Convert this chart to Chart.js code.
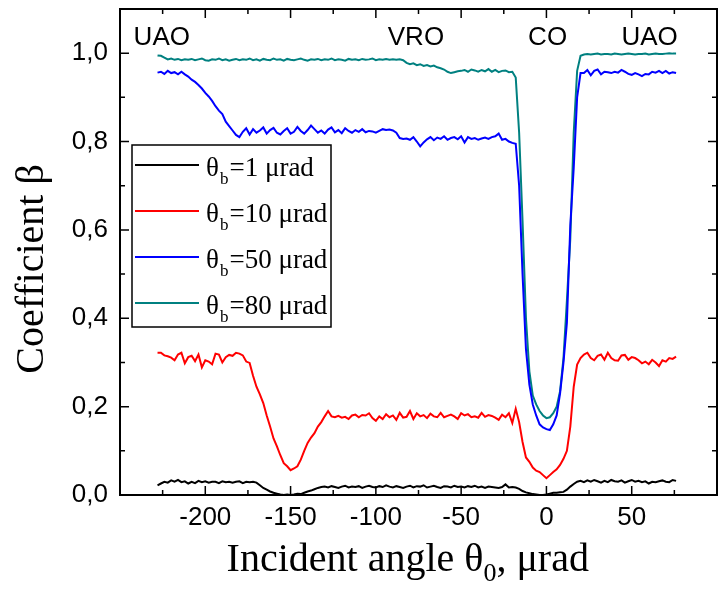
<!DOCTYPE html>
<html><head><meta charset="utf-8">
<script src="https://cdn.jsdelivr.net/npm/chart.js@4.4.1/dist/chart.umd.min.js"></script>
<style>html,body{margin:0;padding:0;background:#fff;}#wrap{width:719px;height:589px;}</style>
</head><body><div id="wrap"><canvas id="c" width="719" height="589"></canvas></div>
<script>
// Incident angle theta_0, µrad
const angles = [
-228,-226,-224,-222,-220,-218,-216,-214,-212,-210,
-208,-206,-204,-202,-200,-198,-196,-194,-192,-190,
-188,-186,-184,-182,-180,-178,-176,-174,-172,-170,
-168,-166,-164,-162,-160,-158,-156,-154,-152,-150,
-148,-146,-144,-142,-140,-138,-136,-134,-132,-130,
-128,-126,-124,-122,-120,-118,-116,-114,-112,-110,
-108,-106,-104,-102,-100,-98,-96,-94,-92,-90,
-88,-86,-84,-82,-80,-78,-76,-74,-72,-70,
-68,-66,-64,-62,-60,-58,-56,-54,-52,-50,
-48,-46,-44,-42,-40,-38,-36,-34,-32,-30,
-28,-26,-24,-22,-20,-18,-16,-14,-12,-10,
-8,-6,-4,-2,0,2,4,6,8,10,
12,14,16,18,20,22,24,26,28,30,
32,34,36,38,40,42,44,46,48,50,
52,54,56,58,60,62,64,66,68,70,
72,74,76];

// theta_b = 1 µrad
const beta1 = [
0.022,0.026,0.030,0.028,0.033,0.030,0.034,0.029,0.031,0.026,
0.030,0.027,0.032,0.029,0.031,0.028,0.030,0.030,0.027,0.031,
0.029,0.030,0.028,0.030,0.031,0.027,0.030,0.029,0.030,0.028,
0.022,0.016,0.012,0.008,0.005,0.003,0.001,0.000,0.001,0.000,
0.001,0.003,0.002,0.005,0.008,0.010,0.013,0.016,0.018,0.019,
0.017,0.020,0.018,0.016,0.019,0.021,0.017,0.019,0.018,0.020,
0.016,0.019,0.021,0.018,0.017,0.020,0.018,0.022,0.019,0.017,
0.020,0.018,0.016,0.019,0.021,0.017,0.020,0.019,0.022,0.017,
0.019,0.021,0.018,0.016,0.020,0.019,0.017,0.021,0.018,0.019,
0.017,0.020,0.018,0.021,0.017,0.019,0.016,0.019,0.018,0.017,
0.016,0.018,0.024,0.017,0.018,0.017,0.014,0.009,0.006,0.004,
0.002,0.001,0.000,0.000,0.001,0.003,0.005,0.005,0.006,0.007,
0.012,0.019,0.025,0.030,0.032,0.029,0.033,0.030,0.034,0.031,
0.028,0.032,0.029,0.034,0.031,0.030,0.033,0.028,0.031,0.034,
0.030,0.032,0.029,0.031,0.026,0.030,0.029,0.031,0.033,0.030,
0.029,0.034,0.032];

// theta_b = 10 µrad
const beta10 = [
0.322,0.322,0.316,0.314,0.311,0.305,0.318,0.322,0.298,0.312,
0.315,0.303,0.318,0.289,0.305,0.302,0.296,0.320,0.318,0.300,
0.312,0.317,0.315,0.322,0.320,0.316,0.302,0.299,0.270,0.245,
0.228,0.208,0.180,0.155,0.128,0.110,0.090,0.072,0.065,0.056,
0.060,0.065,0.080,0.100,0.118,0.130,0.140,0.155,0.165,0.178,
0.190,0.178,0.176,0.179,0.175,0.177,0.172,0.180,0.182,0.176,
0.181,0.180,0.185,0.174,0.168,0.178,0.172,0.183,0.176,0.180,
0.170,0.186,0.175,0.177,0.190,0.172,0.185,0.178,0.181,0.174,
0.184,0.178,0.176,0.186,0.176,0.179,0.182,0.178,0.172,0.185,
0.180,0.183,0.176,0.178,0.175,0.186,0.177,0.181,0.179,0.175,
0.170,0.182,0.176,0.185,0.163,0.195,0.165,0.120,0.085,0.075,
0.062,0.055,0.052,0.045,0.038,0.045,0.052,0.058,0.068,0.082,
0.100,0.155,0.245,0.295,0.310,0.318,0.322,0.310,0.305,0.315,
0.318,0.306,0.322,0.310,0.305,0.304,0.316,0.317,0.306,0.312,
0.310,0.305,0.298,0.302,0.296,0.306,0.300,0.292,0.305,0.302,
0.310,0.308,0.313];

// theta_b = 50 µrad
const beta50 = [
0.956,0.958,0.953,0.960,0.955,0.957,0.952,0.958,0.952,0.947,
0.940,0.935,0.928,0.920,0.910,0.902,0.892,0.880,0.870,0.862,
0.845,0.835,0.825,0.815,0.810,0.822,0.830,0.816,0.828,0.820,
0.825,0.832,0.818,0.826,0.831,0.820,0.816,0.824,0.830,0.818,
0.822,0.833,0.824,0.818,0.826,0.836,0.828,0.820,0.825,0.818,
0.827,0.832,0.821,0.826,0.819,0.830,0.824,0.820,0.826,0.822,
0.828,0.821,0.824,0.823,0.820,0.824,0.828,0.826,0.827,0.825,
0.820,0.808,0.806,0.807,0.804,0.810,0.800,0.789,0.798,0.805,
0.810,0.803,0.809,0.806,0.812,0.804,0.808,0.810,0.805,0.812,
0.798,0.810,0.806,0.808,0.804,0.807,0.809,0.806,0.810,0.812,
0.818,0.804,0.806,0.800,0.797,0.795,0.700,0.500,0.330,0.250,
0.205,0.180,0.160,0.153,0.149,0.147,0.160,0.180,0.230,0.300,
0.390,0.610,0.740,0.900,0.955,0.955,0.962,0.950,0.960,0.963,
0.952,0.958,0.957,0.955,0.958,0.956,0.962,0.958,0.953,0.951,
0.955,0.952,0.948,0.953,0.952,0.958,0.956,0.960,0.955,0.960,
0.954,0.957,0.955];

// theta_b = 80 µrad
const beta80 = [
0.995,0.994,0.990,0.986,0.988,0.985,0.987,0.984,0.986,0.985,
0.987,0.984,0.986,0.988,0.984,0.983,0.986,0.985,0.988,0.984,
0.986,0.983,0.985,0.987,0.984,0.986,0.985,0.988,0.984,0.986,
0.983,0.987,0.985,0.984,0.988,0.985,0.986,0.983,0.987,0.985,
0.984,0.986,0.988,0.985,0.983,0.986,0.985,0.987,0.984,0.986,
0.985,0.988,0.984,0.986,0.985,0.983,0.987,0.985,0.986,0.984,
0.987,0.985,0.986,0.988,0.984,0.986,0.985,0.987,0.985,0.986,
0.985,0.986,0.984,0.978,0.975,0.977,0.973,0.975,0.971,0.973,
0.970,0.972,0.968,0.966,0.963,0.958,0.955,0.957,0.959,0.960,
0.962,0.958,0.963,0.961,0.958,0.962,0.959,0.964,0.958,0.962,
0.957,0.960,0.961,0.957,0.958,0.945,0.820,0.620,0.400,0.280,
0.225,0.205,0.190,0.180,0.174,0.176,0.185,0.200,0.235,0.310,
0.440,0.580,0.820,0.960,0.994,0.997,0.998,0.997,0.998,0.999,
0.997,0.998,0.998,0.997,0.999,0.998,0.997,0.998,0.999,0.998,
0.997,0.998,0.998,0.999,0.997,0.998,0.999,0.998,0.998,0.999,
1.000,0.999,0.999];

const seriesBeam = ['1','10','50','80'];           // theta_b values, µrad
const seriesColors = ['#000000','#ff0000','#0000ff','#008080'];
const xTickValues = [-200,-150,-100,-50,0,50];
const xMajorMarks = [-250,-200,-150,-100,-50,0,50,100];
const xMinorMarks = [-225,-175,-125,-75,-25,25,75];
const yTickValues = [0,0.2,0.4,0.6,0.8,1.0];
const yTickLabels = ['0,0','0,2','0,4','0,6','0,8','1,0'];
const yMinorMarks = [0.1,0.3,0.5,0.7,0.9];
const regionLabels = ['UAO','VRO','CO','UAO'];
const regionX = [-225.5,-76.5,0.7,60.5];
const regionY = 1.018;

const SERIF = '"Liberation Serif","Times New Roman",serif';
const SANS = '"Liberation Sans",Arial,sans-serif';

const seriesValues = [beta1, beta10, beta50, beta80];
const datasets = seriesValues.map((vals, k) => ({
  label: 'θb=' + seriesBeam[k] + ' μrad',
  data: angles.map((a, i) => ({x: a, y: vals[i]})),
  borderColor: seriesColors[k],
  backgroundColor: seriesColors[k],
  borderWidth: 2,
  pointRadius: 0,
  tension: 0,
  fill: false
}));

const decorPlugin = {
  id: 'decor',
  afterDatasetsDraw(chart) {
    const {ctx, chartArea: a, scales: {x, y}} = chart;
    ctx.save();
    ctx.strokeStyle = '#000';
    ctx.fillStyle = '#000';
    // inward ticks on all four sides
    ctx.lineWidth = 1.5;
    ctx.beginPath();
    const xt = (v, len) => {
      const p = x.getPixelForValue(v);
      ctx.moveTo(p, a.bottom); ctx.lineTo(p, a.bottom - len);
      ctx.moveTo(p, a.top); ctx.lineTo(p, a.top + len);
    };
    const yt = (v, len) => {
      const p = y.getPixelForValue(v);
      ctx.moveTo(a.left, p); ctx.lineTo(a.left + len, p);
      ctx.moveTo(a.right, p); ctx.lineTo(a.right - len, p);
    };
    xMajorMarks.forEach(v => xt(v, 9));
    xMinorMarks.forEach(v => xt(v, 5));
    yTickValues.forEach(v => yt(v, 9));
    yMinorMarks.forEach(v => yt(v, 5));
    ctx.stroke();
    // frame
    ctx.lineWidth = 2;
    ctx.strokeRect(a.left, a.top, a.right - a.left, a.bottom - a.top);

    // region labels
    ctx.font = '26px ' + SANS;
    ctx.textAlign = 'center';
    ctx.textBaseline = 'alphabetic';
    regionLabels.forEach((t, i) => {
      ctx.fillText(t, x.getPixelForValue(regionX[i]), y.getPixelForValue(regionY));
    });

    // legend
    const lx = a.left + 12, ly = a.top + 136, lw = 199, lh = 182;
    ctx.fillStyle = '#fff';
    ctx.fillRect(lx, ly, lw, lh);
    ctx.lineWidth = 1.5;
    ctx.strokeStyle = '#000';
    ctx.strokeRect(lx, ly, lw, lh);
    ctx.textAlign = 'left';
    seriesBeam.forEach((b, k) => {
      const ry = ly + 20 + 46 * k;
      ctx.strokeStyle = seriesColors[k];
      ctx.lineWidth = 2;
      ctx.beginPath(); ctx.moveTo(lx + 3, ry); ctx.lineTo(lx + 67, ry); ctx.stroke();
      ctx.fillStyle = '#000';
      let tx = lx + 74;
      const base = ry + 11;
      ctx.font = '27px ' + SERIF;
      ctx.fillText('θ', tx, base); tx += ctx.measureText('θ').width + 1;
      ctx.font = '17px ' + SERIF;
      ctx.fillText('b', tx, base + 8); tx += ctx.measureText('b').width + 1;
      ctx.font = '27px ' + SERIF;
      ctx.fillText('=' + b + ' μrad', tx, base);
    });

    // x axis title with subscript
    ctx.fillStyle = '#000';
    const p1 = 'Incident angle θ', p2 = '0', p3 = ', μrad';
    ctx.font = '40px ' + SERIF; const w1 = ctx.measureText(p1).width, w3 = ctx.measureText(p3).width;
    ctx.font = '26px ' + SERIF; const w2 = ctx.measureText(p2).width;
    const cx = a.left + (a.right - a.left) * 0.482;
    let sx = cx - (w1 + w2 + w3) / 2;
    const xb = a.bottom + 76;
    ctx.font = '40px ' + SERIF; ctx.fillText(p1, sx, xb); sx += w1;
    ctx.font = '26px ' + SERIF; ctx.fillText(p2, sx, xb + 10); sx += w2;
    ctx.font = '40px ' + SERIF; ctx.fillText(p3, sx, xb);

    // y axis title
    ctx.save();
    ctx.translate(43, a.top + (a.bottom - a.top) * 0.535);
    ctx.rotate(-Math.PI / 2);
    ctx.textAlign = 'center';
    ctx.font = '40px ' + SERIF;
    ctx.fillText('Coefficient β', 0, 0);
    ctx.restore();

    ctx.restore();
  }
};

new Chart(document.getElementById('c'), {
  type: 'line',
  data: {datasets},
  options: {
    responsive: false,
    animation: false,
    devicePixelRatio: 1,
    layout: {padding: {top: 9, right: 2, left: 0, bottom: 0}},
    plugins: {legend: {display: false}, tooltip: {enabled: false}},
    scales: {
      x: {
        type: 'linear', min: -250, max: 100,
        afterBuildTicks: s => { s.ticks = xTickValues.map(v => ({value: v})); },
        afterFit: s => { s.height = 94; s.paddingLeft = 0; s.paddingRight = 0; },
        grid: {display: false, drawTicks: false},
        border: {display: false},
        ticks: {color: '#000', font: {family: SANS, size: 26}, padding: 7, maxRotation: 0,
                callback: v => String(v)}
      },
      y: {
        type: 'linear', min: 0, max: 1.1,
        afterBuildTicks: s => { s.ticks = yTickValues.map(v => ({value: v})); },
        afterFit: s => { s.width = 120; s.paddingTop = 0; s.paddingBottom = 0; },
        grid: {display: false, drawTicks: false},
        border: {display: false},
        ticks: {color: '#000', font: {family: SANS, size: 26}, padding: 12,
                callback: v => yTickLabels[yTickValues.findIndex(t => Math.abs(t - v) < 1e-9)]}
      }
    }
  },
  plugins: [decorPlugin]
});
</script>
</body></html>
